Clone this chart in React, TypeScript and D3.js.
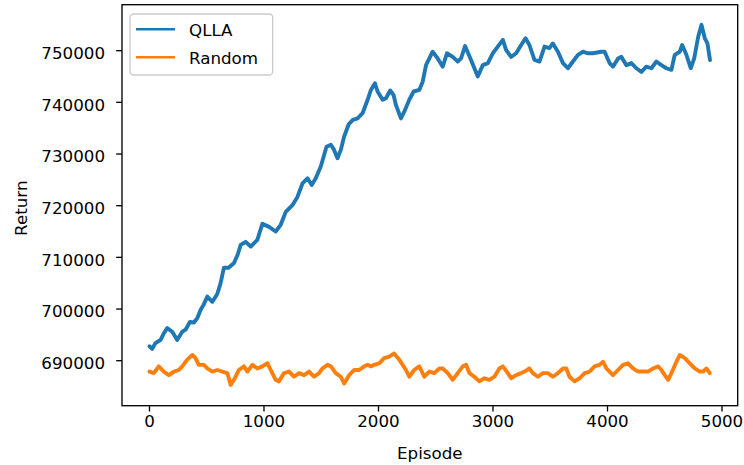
import React from "react";
import * as d3 from "d3";

// QLLA return per episode (smoothed training curve)
const qllaEpisodes = [
  0, 24, 52, 96, 125, 155, 199, 242, 286, 315, 353, 388, 417, 446, 472, 505, 549, 592, 621, 650,
  691, 738, 770, 796, 840, 884, 942, 986, 1044, 1102, 1146, 1190, 1248, 1292, 1336, 1380, 1417, 1452, 1496, 1546,
  1584, 1612, 1642, 1671, 1700, 1741, 1776, 1817, 1861, 1905, 1934, 1969, 1992, 2036, 2065, 2102, 2132, 2152, 2196, 2225,
  2269, 2307, 2356, 2386, 2415, 2473, 2517, 2561, 2598, 2648, 2692, 2721, 2756, 2808, 2867, 2911, 2955, 2998, 3042, 3086,
  3115, 3158, 3202, 3246, 3284, 3318, 3362, 3406, 3450, 3493, 3523, 3567, 3611, 3654, 3698, 3742, 3786, 3829, 3873, 3946,
  3975, 4018, 4048, 4092, 4121, 4165, 4208, 4252, 4296, 4339, 4383, 4427, 4471, 4514, 4558, 4587, 4631, 4652, 4689, 4727,
  4757, 4792, 4821, 4850, 4873, 4895,
];
const qllaReturns = [
  692800, 692300, 693400, 694000, 695300, 696300, 695600, 694000, 695600, 696000, 697500, 697400, 698200, 699800, 700800, 702400, 701400, 702900, 705000, 708000,
  708000, 708900, 710500, 712400, 713000, 712100, 713400, 716500, 715900, 715000, 716300, 718800, 720100, 721700, 724300, 725300, 724000, 725300, 727600, 731400,
  731800, 730800, 729200, 730800, 733400, 735800, 736600, 736900, 737900, 740500, 742400, 743700, 742100, 740500, 740800, 742300, 741400, 739500, 736900, 738200,
  740500, 742100, 742400, 744000, 747200, 749800, 748500, 746900, 749500, 748800, 747900, 748500, 750900, 748200, 745000, 747200, 747600, 749500, 750800, 752100,
  750100, 748800, 749500, 751100, 752400, 751100, 748200, 747900, 750800, 750500, 751400, 749800, 747600, 746600, 747900, 749200, 749800, 749500, 749500, 749800,
  749800, 747600, 746900, 748500, 748800, 747200, 747600, 746600, 745900, 746900, 746600, 747900, 747200, 746600, 746300, 749200, 749800, 751100, 749200, 746600,
  748500, 752700, 755000, 752400, 751400, 748200,
];

// Random-policy return per episode
const randomEpisodes = [
  0, 38, 81, 125, 169, 213, 256, 286, 330, 374, 402, 431, 475, 505, 549, 592, 636, 680, 709, 738,
  781, 825, 855, 899, 942, 986, 1030, 1059, 1102, 1131, 1175, 1219, 1262, 1306, 1350, 1394, 1437, 1481, 1511, 1555,
  1584, 1627, 1671, 1700, 1744, 1787, 1831, 1875, 1905, 1934, 1962, 2006, 2050, 2094, 2137, 2181, 2211, 2240, 2269, 2312,
  2356, 2400, 2444, 2487, 2531, 2561, 2605, 2648, 2692, 2736, 2765, 2794, 2837, 2881, 2925, 2969, 3012, 3056, 3086, 3130,
  3158, 3202, 3246, 3275, 3318, 3348, 3392, 3436, 3480, 3523, 3567, 3611, 3640, 3668, 3712, 3756, 3800, 3843, 3887, 3931,
  3961, 3990, 4018, 4048, 4092, 4136, 4179, 4223, 4267, 4311, 4354, 4398, 4442, 4471, 4500, 4529, 4558, 4602, 4631, 4675,
  4718, 4762, 4806, 4835, 4864, 4893,
];
const randomReturns = [
  687900, 687600, 688900, 687900, 687200, 687900, 688200, 688900, 690200, 691100, 690500, 689200, 689200, 688500, 687900, 688200, 687900, 687600, 685300, 686300,
  688200, 688900, 687900, 689200, 688500, 688900, 689500, 688200, 686300, 686000, 687600, 687900, 686900, 687600, 687200, 687900, 686900, 687600, 688500, 689200,
  688900, 687600, 686900, 685600, 687200, 688200, 688200, 688900, 689200, 688900, 689200, 689500, 690500, 690800, 691400, 690200, 689200, 688200, 686900, 688200,
  688900, 686900, 687900, 687600, 688500, 688500, 687600, 686300, 687600, 688900, 689200, 687600, 686900, 686000, 686600, 686300, 686900, 688500, 688900, 687600,
  686600, 687200, 687600, 687900, 688500, 687600, 686900, 687600, 687600, 686900, 687600, 688500, 688500, 686900, 686000, 686600, 687600, 687900, 688900, 689200,
  689800, 688500, 687900, 687200, 688200, 689200, 689500, 688500, 687900, 687900, 687900, 688500, 688900, 688200, 687200, 686300, 687600, 689800, 691100, 690500,
  689500, 688500, 687900, 687900, 688500, 687600,
];

const xTicks = [0, 1000, 2000, 3000, 4000, 5000];
const yTicks = [690000, 700000, 710000, 720000, 730000, 740000, 750000];

const seriesNames = ["QLLA", "Random"];
const seriesColors = ["#1f77b4", "#ff7f0e"];

const W = 744;
const H = 465;
const plot = { left: 122, right: 737.7, top: 4.7, bottom: 405.7 };
const FONT = "'DejaVu Sans', sans-serif";
const FS = 16.7;

export default function App() {
  const x = d3.scaleLinear().domain([-240, 5137]).range([plot.left, plot.right]);
  const y = d3.scaleLinear().domain([681290, 758900]).range([plot.bottom, plot.top]);

  const line = d3
    .line<[number, number]>()
    .x((d) => x(d[0]))
    .y((d) => y(d[1]));

  const qlla: [number, number][] = qllaEpisodes.map((e, i) => [e, qllaReturns[i]]);
  const random: [number, number][] = randomEpisodes.map((e, i) => [e, randomReturns[i]]);
  const series = [qlla, random];

  const tickLen = 5.8;

  return (
    <svg
      width={W}
      height={H}
      style={{ position: "absolute", left: 0, top: 0, background: "#fff" }}
      fontFamily={FONT}
    >
      <rect x={0} y={0} width={W} height={H} fill="#fff" />
      <defs>
        <clipPath id="plot-area">
          <rect x={plot.left} y={plot.top} width={plot.right - plot.left} height={plot.bottom - plot.top} />
        </clipPath>
      </defs>

      {/* data lines */}
      <g clipPath="url(#plot-area)">
        {series.map((s, i) => (
          <path
            key={seriesNames[i]}
            d={line(s) ?? ""}
            fill="none"
            stroke={seriesColors[i]}
            strokeWidth={3.9}
            strokeLinejoin="round"
            strokeLinecap="round"
          />
        ))}
      </g>

      {/* spines */}
      <rect
        x={plot.left}
        y={plot.top}
        width={plot.right - plot.left}
        height={plot.bottom - plot.top}
        fill="none"
        stroke="#000"
        strokeWidth={1.33}
      />

      {/* x axis */}
      {xTicks.map((t) => (
        <g key={`x${t}`}>
          <line x1={x(t)} x2={x(t)} y1={plot.bottom} y2={plot.bottom + tickLen} stroke="#000" strokeWidth={1.33} />
          <text x={x(t)} y={426.5} textAnchor="middle" fontSize={FS} fill="#000">
            {t}
          </text>
        </g>
      ))}
      <text x={(plot.left + plot.right) / 2} y={459} textAnchor="middle" fontSize={FS} fill="#000">
        Episode
      </text>

      {/* y axis */}
      {yTicks.map((t) => (
        <g key={`y${t}`}>
          <line x1={plot.left - tickLen} x2={plot.left} y1={y(t)} y2={y(t)} stroke="#000" strokeWidth={1.33} />
          <text x={105} y={y(t) + 8.2} textAnchor="end" fontSize={FS} fill="#000">
            {t}
          </text>
        </g>
      ))}
      <text
        transform={`translate(26.5, ${(plot.top + plot.bottom) / 2 + 3}) rotate(-90)`}
        textAnchor="middle"
        fontSize={FS}
        fill="#000"
      >
        Return
      </text>

      {/* legend */}
      <g>
        <rect
          x={130}
          y={14}
          width={142.7}
          height={61}
          rx={3.5}
          ry={3.5}
          fill="#fff"
          fillOpacity={0.8}
          stroke="#cccccc"
          strokeWidth={1.33}
        />
        {seriesNames.map((name, i) => {
          const ly = 29.3 + i * 28;
          return (
            <g key={name}>
              <line x1={136} x2={175} y1={ly} y2={ly} stroke={seriesColors[i]} strokeWidth={2.5} />
              <text x={189} y={ly + 6.2} fontSize={FS} fill="#000">
                {name}
              </text>
            </g>
          );
        })}
      </g>
    </svg>
  );
}
